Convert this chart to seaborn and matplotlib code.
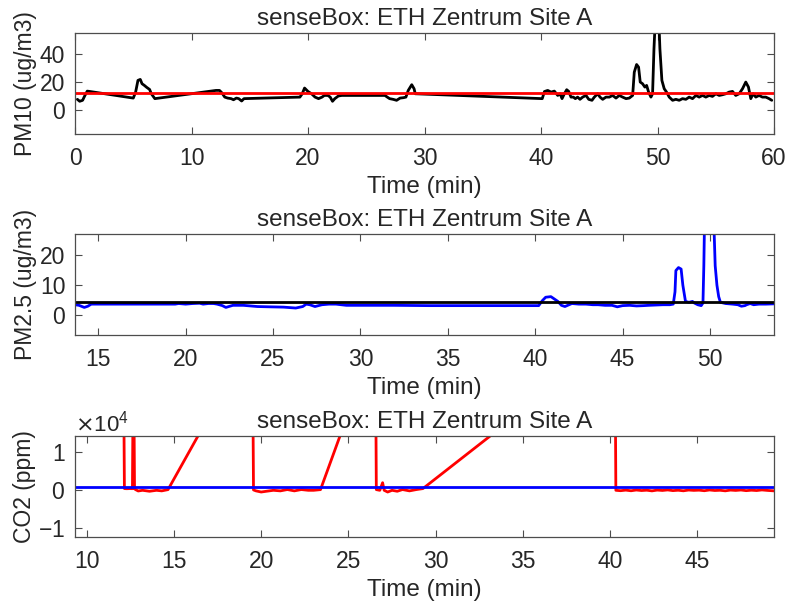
import numpy as np
import pandas as pd
import matplotlib
matplotlib.use("Agg")
import matplotlib.pyplot as plt
import seaborn as sns

# ---------------- data ----------------
title_text = "senseBox: ETH Zentrum Site A"

pm10_t = [0.2, 0.4, 0.65, 0.85, 1.05, 1.3, 5.0, 5.2, 5.4, 5.6, 5.75, 5.95, 6.15, 6.4, 6.55, 6.85,
          12.1, 12.4, 12.6, 12.85, 13.1, 13.4, 13.6, 13.85, 14.05, 14.3, 14.5,
          19.3, 19.5, 19.7, 20.0, 20.3, 20.6, 20.9, 21.2, 21.4, 21.7, 21.9, 22.1, 22.3, 22.6, 22.9,
          26.6, 26.8, 27.0, 27.3, 27.6, 27.9, 28.2, 28.4, 28.6, 28.9, 29.1, 29.2,
          40.1, 40.29, 40.57, 40.86, 41.14, 41.43, 41.63, 41.8, 42.0, 42.2, 42.37, 42.57, 42.77,
          42.94, 43.14, 43.34, 43.57, 43.86, 44.09, 44.37, 44.57, 44.86, 45.06, 45.29, 45.57,
          45.86, 46.14, 46.43, 46.71, 47.0, 47.29, 47.57, 47.86, 48.0, 48.2, 48.37, 48.51,
          48.71, 48.91, 49.06, 49.23, 49.43, 49.57, 49.69, 49.86, 50.06, 50.2, 50.37, 50.57,
          50.77, 51.0, 51.29, 51.57, 51.86, 52.14, 52.43, 52.71, 53.0, 53.29, 53.57, 53.86,
          54.14, 54.43, 54.71, 55.0, 55.29, 55.57, 55.86, 56.14, 56.43, 56.71, 57.0, 57.29,
          57.57, 57.8, 58.0, 58.2, 58.43, 58.71, 59.0, 59.29, 59.57, 59.8]
pm10_v = [7.4, 6.0, 6.7, 10.2, 13.3, 13.0, 8.3, 12.6, 21.0, 21.7, 18.6, 17.4, 16.0, 14.5, 11.4, 7.9,
          13.8, 13.8, 12.1, 9.0, 8.3, 7.9, 7.1, 8.3, 7.9, 6.2, 7.9,
          9.0, 11.4, 15.5, 13.0, 11.4, 9.0, 7.9, 9.0, 10.2, 10.2, 9.0, 6.0, 7.9, 9.8, 10.2,
          10.2, 9.0, 7.9, 7.4, 6.7, 8.3, 8.6, 9.0, 13.8, 17.9, 15.0, 11.4,
          7.9, 13.0, 13.8, 12.6, 13.3, 10.2, 11.4, 7.9, 11.4, 14.3, 13.1, 9.0, 9.0,
          7.9, 9.0, 7.4, 9.0, 10.2, 7.4, 6.7, 9.0, 11.4, 9.0, 7.4, 9.0,
          9.0, 10.2, 8.3, 10.2, 9.0, 7.9, 8.3, 10.2, 26.9, 32.4, 30.5, 19.8,
          18.6, 16.2, 17.4, 12.6, 9.0, 11.4, 43.6, 75.0, 75.0, 43.6, 21.0, 15.0,
          12.6, 9.0, 6.7, 7.4, 6.7, 7.9, 7.4, 9.0, 7.9, 10.2, 9.0, 10.2,
          9.0, 10.2, 9.5, 11.4, 10.2, 10.7, 11.4, 12.6, 13.1, 10.2, 11.4, 15.0,
          19.8, 16.2, 7.9, 11.4, 9.0, 10.2, 9.0, 9.0, 7.9, 6.7]
pm10_ref = 11.9

pm25_t = [13.67, 13.9, 14.2, 14.4, 14.6, 19.4, 19.6, 20.0, 20.4, 20.8, 21.0, 21.3, 21.6, 21.8,
          22.1, 22.3, 22.7, 23.3, 24.1, 24.8, 25.6, 26.3, 26.7, 26.9, 27.1, 27.4, 27.8, 28.2,
          28.6, 29.2, 30.0, 31.9, 33.9, 40.2, 40.4, 40.6, 40.9, 41.1, 41.3, 41.5, 41.7, 42.1,
          42.5, 42.9, 43.3, 43.6, 44.0, 44.4, 44.7, 45.0, 45.4, 45.8, 46.2, 46.5, 46.9, 47.3,
          47.7, 47.9, 48.0, 48.05, 48.2, 48.35, 48.45, 48.6, 48.8, 49.0, 49.1, 49.3, 49.5,
          49.6, 49.65, 49.7, 49.75, 50.1, 50.2, 50.3, 50.4, 50.5, 50.6, 50.9, 51.3, 51.6,
          51.8, 52.0, 52.1, 52.3, 52.5, 52.8, 53.2, 53.67]
pm25_v = [3.5, 3.3, 2.6, 3.0, 3.7, 3.7, 3.9, 3.7, 3.9, 4.0, 3.7, 3.9, 3.9, 3.7,
          3.2, 2.6, 3.3, 3.3, 2.9, 2.8, 2.7, 2.4, 2.9, 3.7, 3.5, 2.9, 3.5, 3.7,
          3.7, 3.3, 3.3, 3.3, 3.2, 3.2, 4.8, 6.0, 6.2, 5.4, 4.6, 3.3, 2.9, 3.9,
          3.7, 3.7, 3.5, 3.5, 3.3, 3.3, 2.8, 3.2, 3.3, 3.1, 3.2, 3.3, 3.4, 3.5,
          3.5, 3.7, 7.8, 14.9, 15.9, 15.4, 10.0, 4.6, 4.3, 4.6, 4.1, 3.5, 3.2,
          4.1, 16.5, 35.0, 45.0, 45.0, 35.0, 16.5, 10.0, 6.2, 4.3, 3.9, 3.7, 3.5,
          3.0, 3.2, 3.5, 3.9, 3.5, 3.7, 3.7, 3.8]
pm25_ref = 4.4

co2_t = [9.35, 12.10, 12.16, 12.3, 12.5, 12.62, 12.68, 12.74, 12.8, 12.95, 13.2, 13.6, 14.0,
         14.3, 14.66, 19.50, 19.56, 19.7, 20.0, 20.3, 20.7, 21.1, 21.5, 21.9, 22.3, 22.7,
         23.0, 23.4, 26.55, 26.6, 26.8, 26.96, 27.05, 27.25, 27.5, 27.8, 28.1, 28.5, 28.9,
         29.27, 40.28, 40.33, 40.6, 40.9, 41.2, 41.5, 41.8, 42.1, 42.4, 42.7, 43.0, 43.3,
         43.6, 43.9, 44.2, 44.5, 44.8, 45.1, 45.4, 45.7, 46.0, 46.3, 46.6, 46.9, 47.2, 47.5,
         47.8, 48.1, 48.4, 48.7, 49.0, 49.4]
co2_v = [40000, 40000, 450, 420, 460, 430, 40000, 400, 180, -180, 0, -250, 0,
         -150, 180, 40000, 100, -150, -450, -250, 0, -150, 200, -150, 200, 0,
         0, 180, 40000, 180, 0, 2000, 0, -450, 0, -250, 200, -150, 200,
         450, 40000, 0, -100, 50, -120, 80, -60, 30, -150, 60, -40, 100,
         -80, 20, -130, 70, -20, 40, -110, 90, -50, 10, -140, 60, -30, 80,
         -90, 30, -60, 100, -20, -150]
co2_ref = 750

# ---------------- style ----------------
sns.set_theme(style="ticks")
plt.rcParams["font.family"] = ["Liberation Sans", "DejaVu Sans"]
plt.rcParams["axes.unicode_minus"] = False

fig = plt.figure(figsize=(7.89, 6.07), dpi=100)

L, W, H = 0.0951, 0.886, 0.1664
bottoms = [0.7792, 0.4481, 0.1153]

panels = [
    dict(t=pm10_t, v=pm10_v, c="black", ref=pm10_ref, rc="red", ylabel="PM10 (ug/m3)",
         xlim=(0, 60), ylim=(-17.5, 55), xt=np.arange(0, 61, 10), yt=[0, 20, 40]),
    dict(t=pm25_t, v=pm25_v, c="blue", ref=pm25_ref, rc="black", ylabel="PM2.5 (ug/m3)",
         xlim=(13.67, 53.67), ylim=(-6.6, 27.1), xt=np.arange(15, 51, 5), yt=[0, 10, 20]),
    dict(t=co2_t, v=co2_v, c="red", ref=co2_ref, rc="blue", ylabel="CO2 (ppm)",
         xlim=(9.33, 49.4), ylim=(-12300, 14300), xt=np.arange(10, 46, 5), yt=[-10000, 0, 10000]),
]

edge = "#4d4d4d"
for i, p in enumerate(panels):
    ax = fig.add_axes([L, bottoms[i], W, H])
    df = pd.DataFrame({"t": p["t"], "v": p["v"]})
    sns.lineplot(data=df, x="t", y="v", ax=ax, color=p["c"], lw=2.0, sort=False, estimator=None)
    ax.axhline(p["ref"], color=p["rc"], lw=2.0)
    ax.set_xlim(*p["xlim"])
    ax.set_ylim(*p["ylim"])
    ax.set_xticks(p["xt"])
    ax.set_yticks(p["yt"])
    ax.set_title(title_text, fontsize=17.5, pad=6)
    ax.set_xlabel("Time (min)", fontsize=17.5, labelpad=5)
    ax.set_ylabel(p["ylabel"], fontsize=16.5, labelpad=2)
    ax.tick_params(axis="both", which="major", direction="in", length=5, width=0.8,
                   color=edge, labelsize=16.5, top=True, right=True, pad=7,
                   labelcolor="#262626")
    ax.tick_params(axis="x", pad=9)
    for s in ax.spines.values():
        s.set_color(edge)
        s.set_linewidth(0.9)
        s.set_visible(True)
    if i == 2:
        ax.ticklabel_format(axis="y", style="sci", scilimits=(0, 0), useMathText=True)
        ax.yaxis.get_offset_text().set_fontsize(16)
        ax.yaxis.get_offset_text().set_color("#262626")

fig.savefig("out.png", dpi=100)
